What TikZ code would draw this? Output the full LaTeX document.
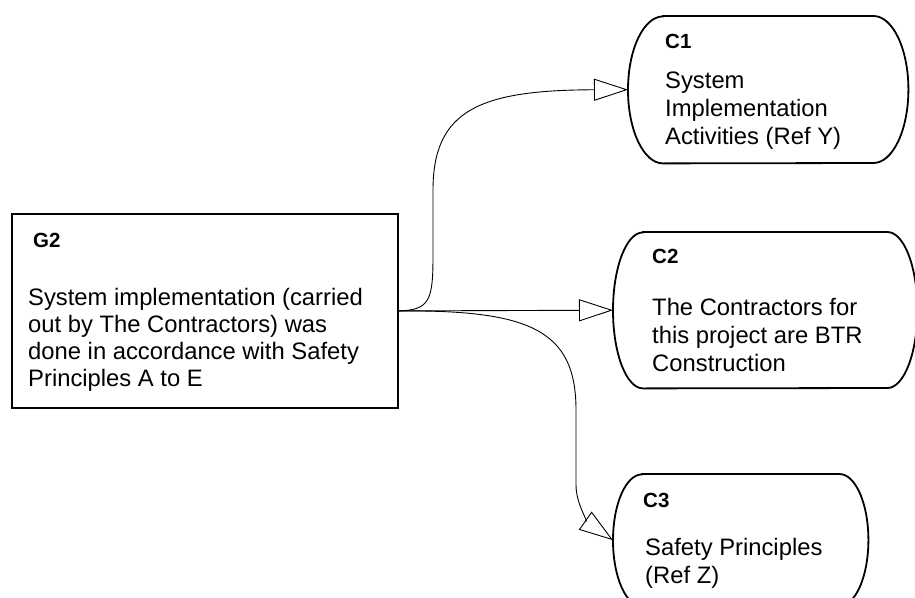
\documentclass[tikz,border=0pt]{standalone}
\usepackage{fontspec}
\setmainfont{Liberation Sans}
\usetikzlibrary{arrows.meta}
\tikzset{
  boxline/.style={line width=1.8pt, draw=black},
  conn/.style={line width=0.9pt, draw=black, -{Triangle[open, length=34pt, width=22pt, line width=0.9pt]}},
  shapebox/.style={draw=none, inner sep=0pt, anchor=north west},
  ttl/.style={inner sep=0pt, anchor=base west, font=\fontsize{20.5}{24}\selectfont\bfseries},
  bdyg/.style={inner sep=0pt, anchor=base west, font=\fontsize{23.8}{27.3}\selectfont},
  bdyc/.style={inner sep=0pt, anchor=base west, font=\fontsize{23.8}{28.3}\selectfont},
}
\newcommand\ctxoutline[3]{% node name, x radius, y radius
  \draw[boxline] ([xshift=#2pt]#1.north west) -- ([xshift=-#2pt]#1.north east)
    arc[start angle=-90, end angle=90, x radius=#2, y radius=#3]
    -- ([xshift=#2pt]#1.south west)
    arc[start angle=90, end angle=270, x radius=#2, y radius=#3] -- cycle;}
\begin{document}
\begin{tikzpicture}[x=1pt, y=-1pt]
\useasboundingbox (0,0) rectangle (915,597);
\fill[white] (0,0) rectangle (915,597);
\clip (0,0) rectangle (915,597);

% goal box
\node[shapebox, boxline, draw=black, minimum width=386pt, minimum height=194pt] (g2) at (11,213) {};
\node[ttl] (g2t) at (33,247) {G2};
\node[bdyg] (g2b) at (28,305) {\vtop{\hbox{System implementation (carried}\hbox{out by The Contractors) was}\hbox{done in accordance with Safety}\hbox{Principles A to E}}};

% context C1
\node[shapebox, minimum width=280pt, minimum height=147pt] (c1) at (628,16) {};
\ctxoutline{c1}{35}{73.5}
\node[ttl] (c1t) at (665,48) {C1};
\node[bdyc] (c1b) at (665,88) {\vtop{\hbox{System}\hbox{Implementation}\hbox{Activities (Ref Y)}}};

% context C2
\node[shapebox, minimum width=304pt, minimum height=156pt] (c2) at (613,232) {};
\ctxoutline{c2}{30}{78}
\node[ttl] (c2t) at (652,263) {C2};
\node[bdyc] (c2b) at (652,315) {\vtop{\hbox{The Contractors for}\hbox{this project are BTR}\hbox{Construction}}};

% context C3
\node[shapebox, minimum width=255pt, minimum height=132pt] (c3) at (613,474) {};
\ctxoutline{c3}{29}{66}
\node[ttl] (c3t) at (643,507) {C3};
\node[bdyc] (c3b) at (645,555) {\vtop{\hbox{Safety Principles}\hbox{(Ref Z)}}};

% connectors
\draw[conn] (g2.east) .. controls (430,310) and (433,300) .. (433,255) -- (433,190)
  .. controls (433,110) and (480,90) .. (c1.west);
\draw[conn] (g2.east) -- (c2.west);
\draw[conn] (g2.east) .. controls (530,310) and (576,330) .. (576,410) -- (576,485)
  .. controls (576,505) and (590,524) .. (c3.west);
\end{tikzpicture}
\end{document}
